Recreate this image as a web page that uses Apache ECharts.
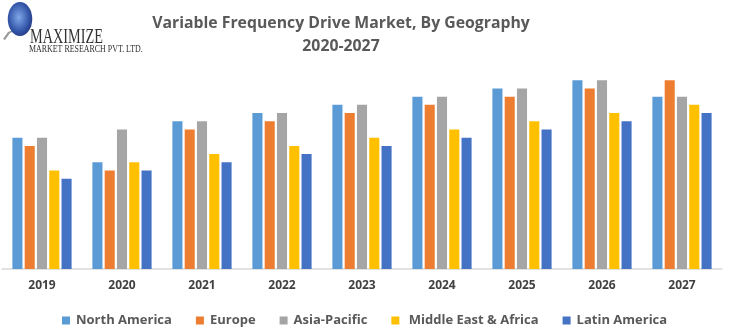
<!DOCTYPE html>
<html><head><meta charset="utf-8">
<script src="https://cdn.jsdelivr.net/npm/echarts@6/dist/echarts.min.js"></script>
<style>html,body{margin:0;padding:0;background:#fff}#c{width:729px;height:331px}</style>
</head><body><div id="c"></div>
<script>
const years = ['2019','2020','2021','2022','2023','2024','2025','2026','2027'];
const northAmerica = [16,13,18,19,20,21,22,23,21];
const europe       = [15,12,17,18,19,20,21,22,23];
const asiaPacific  = [16,17,18,19,20,21,22,23,21];
const mea          = [12,13,14,15,16,17,18,19,20];
const latinAmerica = [11,12,13,14,15,16,17,18,19];
const seriesNames = ['North America','Europe','Asia-Pacific','Middle East & Africa','Latin America'];
const colors = ['#5b9bd5','#ed7d31','#a5a5a5','#ffc000','#4472c4'];
const allData = [northAmerica, europe, asiaPacific, mea, latinAmerica];

const chart = echarts.init(document.getElementById('c'));
chart.setOption({
  animation:false,
  title:{
    text:'Variable Frequency Drive Market, By Geography\n2020-2027',
    left:336, top:7, textAlign:'center',
    textStyle:{fontFamily:'Open Sans', fontWeight:'bold', fontSize:15.8, color:'#595959', lineHeight:23}
  },
  legend:{
    left:57, top:309, itemWidth:8, itemHeight:8, itemGap:24, icon:'rect',
    formatter: n => n === 'Middle East & Africa' ? ' ' + n : n,
    textStyle:{fontFamily:'Open Sans', fontWeight:'bold', fontSize:13, color:'#595959', padding:[0,0,0,1]},
    data:seriesNames
  },
  grid:{left:2, right:7, top:72, bottom:62},
  xAxis:{
    type:'category', data:years,
    axisLine:{lineStyle:{color:'#d9d9d9', width:1.5}},
    axisTick:{show:false},
    axisLabel:{fontFamily:'Open Sans', fontWeight:'bold', fontSize:12, color:'#404040', margin:11}
  },
  yAxis:{type:'value', min:0, max:24, show:false, splitLine:{show:false}},
  series: allData.map((d,i)=>({
    name:seriesNames[i], type:'bar', data:d,
    itemStyle:{color:colors[i]},
    barGap:'22%', barCategoryGap:'26%'
  })),
  graphic:[
    {type:'polygon', shape:{points:[[3,39],[8,32],[18,28],[34,26],[20,29],[10,33],[5,40]]}, style:{fill:'#9a9a9a'}},
    {type:'circle', x:20, y:19, scaleX:0.72, shape:{cx:0, cy:0, r:17}, style:{fill:{type:'radial',x:0.45,y:0.45,r:0.7,colorStops:[{offset:0,color:'#7fa8e8'},{offset:0.6,color:'#3355a8'},{offset:1,color:'#1a2a6a'}]}}},
    {type:'text', x:30, y:27, scaleX:0.68, style:{text:'MAXIMIZE', font:'21px "Liberation Serif"', fill:'#333333'}},
    {type:'text', x:29, y:44, scaleX:0.72, style:{text:'MARKET RESEARCH PVT. LTD.', font:'11px "Liberation Serif"', fill:'#333333'}}
  ]
});
</script></body></html>
